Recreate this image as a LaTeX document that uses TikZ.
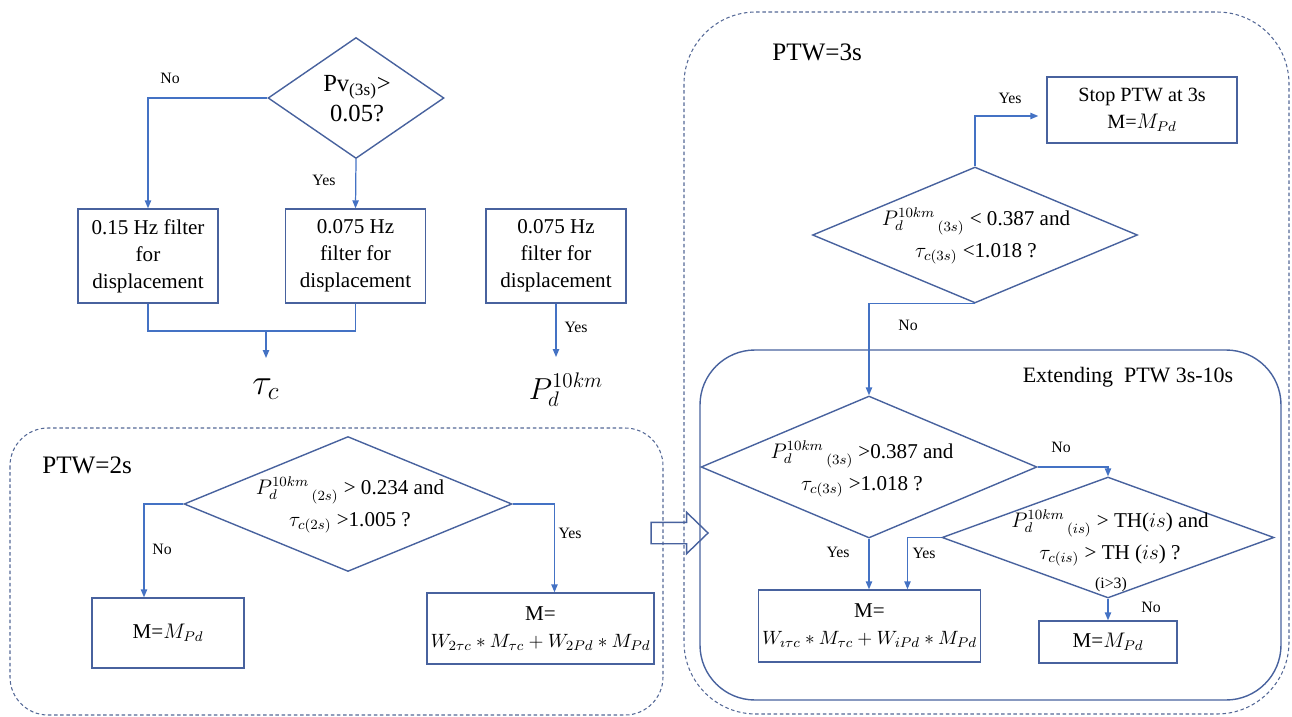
\documentclass[tikz,border=0pt]{standalone}
\usepackage{fontspec}
\setmainfont{Liberation Serif}
\usetikzlibrary{shapes.geometric,shapes.arrows,arrows.meta,calc}
\definecolor{lnc}{RGB}{68,114,196}
\definecolor{shc}{RGB}{72,98,158}
\definecolor{dsc}{RGB}{84,104,150}
\begin{document}
\begin{tikzpicture}[x=0.02cm,y=-0.02cm,
  ln/.style={draw=lnc,line width=0.7pt},
  arr/.style={ln,-{Triangle[length=4.5pt,width=3.6pt]}},
  boxn/.style={draw=shc,line width=0.8pt,align=center,inner sep=2pt,font=\fontsize{12}{15.3}\selectfont},
  dian/.style={draw=shc,line width=0.8pt,diamond,inner sep=0pt},
  dtext/.style={align=center,inner sep=0pt,font=\fontsize{12}{18}\selectfont},
  lbl/.style={font=\fontsize{9}{10}\selectfont,inner sep=0pt},
  frame/.style={draw=dsc,line width=0.6pt,dash pattern=on 2pt off 1.5pt},
  big/.style={font=\fontsize{14.3}{17}\selectfont,inner sep=0pt}
]
\useasboundingbox (0,0) rectangle (1292,717);

% ---------- frames ----------
\draw[frame,rounded corners=0.76cm] (10,428) rectangle (663,715);
\draw[frame,rounded corners=1.44cm] (684,12) rectangle (1289,714);
\draw[draw=shc,line width=0.8pt,rounded corners=1.1cm] (700,350) rectangle (1281,700);

% ---------- top left ----------
\node[dian,minimum width=3.52cm,minimum height=2.42cm] (pv) at (356,98) {};
\node[align=center,inner sep=0pt,font=\fontsize{14}{17}\selectfont] (pvt) at (357,99) {Pv\textsubscript{(3s)}>\\0.05?};
\node[boxn,minimum width=2.8cm,minimum height=1.88cm] (b1) at (148,256) {0.15 Hz filter\\for\\displacement};
\node[boxn,minimum width=2.8cm,minimum height=1.88cm] (b2) at (355.5,256) {0.075 Hz\\filter for\\displacement};
\node[boxn,minimum width=2.8cm,minimum height=1.88cm] (b3) at (556,256) {0.075 Hz\\filter for\\displacement};
\coordinate (jn) at (266,331);
\node[font=\fontsize{20}{24}\selectfont,anchor=north,inner sep=0pt] (tc) at (266,378) {$\tau_c$};
\node[font=\fontsize{18}{22}\selectfont,anchor=north,inner sep=0pt] (pd) at (566,373) {$P_d^{10km}$};

\draw[arr] (pv.west) -| (b1.north);
\draw[arr] (pv.south) -- (b2.north);
\draw[ln] (b1.south) |- (b2.south |- jn) -- (b2.south);
\draw[arr,shorten >=0.4cm] (jn) -- (tc.north);
\draw[arr,shorten >=0.32cm] (b3.south) -- (b3.south |- pd.north);
\node[lbl] (l1) at (170,78) {No};
\node[lbl] (l2) at (324,180) {Yes};
\node[lbl] (l3) at (576,327) {Yes};

% ---------- PTW=2s ----------
\node[big,anchor=west] (ptw2) at (42,465) {PTW=2s};
\node[dian,minimum width=6.56cm,minimum height=2.7cm] (d2) at (348,504) {};
\node[dtext] (d2t) at (350,505) {${P_d^{10km}}_{\,(2s)}$ > 0.234 and\\$\tau_{c(2s)}$ >1.005 ?};
\node[boxn,minimum width=3.04cm,minimum height=1.4cm] (m2a) at (168,633) {M=$M_{Pd}$};
\node[boxn,minimum width=4.42cm,minimum height=1.42cm] (m2b) at (540.5,628.5) {M=\\{\fontsize{11}{13}\selectfont$W_{2\tau c} * M_{\tau c} + W_{2Pd} * M_{Pd}$}};
\draw[arr] (d2.west) -| ($(m2a.north)+(-24,0)$);
\draw[arr] (d2.east) -| ($(m2b.north)+(14,0)$);
\node[lbl] (l4) at (162,549) {No};
\node[lbl] (l5) at (570,533) {Yes};

% hollow arrow
\node[single arrow,draw=shc,line width=0.8pt,minimum height=1.14cm,inner xsep=0pt,inner ysep=0.2cm,
  single arrow head extend=0.2cm,single arrow tip angle=88,single arrow head indent=0pt] (ha) at (674,533) {};

% ---------- PTW=3s ----------
\node[big,anchor=west] (ptw3) at (772,52) {PTW=3s};
\node[boxn,font=\fontsize{11.5}{15}\selectfont,minimum width=3.8cm,minimum height=1.32cm] (stop) at (1142,110) {Stop PTW at 3s\\M=$M_{Pd}$};
\node[dian,minimum width=6.5cm,minimum height=2.72cm] (d3) at (975,235) {};
\node[dtext] (d3t) at (976,236) {${P_d^{10km}}_{\,(3s)}$ < 0.387 and\\$\tau_{c(3s)}$ <1.018 ?};
\draw[arr,shorten >=0.16cm] (d3.north) |- ($(stop.west)+(0,6)$);
\node[lbl] (l6) at (1010,98) {Yes};

% ---------- Extending ----------
\node[font=\fontsize{12.5}{15}\selectfont,inner sep=0pt] (ext) at (1128,377) {Extending\ \ PTW 3s-10s};
\node[dian,minimum width=6.72cm,minimum height=2.84cm] (d4) at (869,467) {};
\node[dtext] (d4t) at (862,469) {${P_d^{10km}}_{\,(3s)}$ >0.387 and\\$\tau_{c(3s)}$ >1.018 ?};
\node[dian,minimum width=6.64cm,minimum height=2.42cm] (d5) at (1108,537.5) {};
\node[dtext] (d5t) at (1110,538) {${P_d^{10km}}_{\,(is)}$ > TH($is$) and\\$\tau_{c(is)}$ > TH ($is$) ?};
\node[lbl] (d5c) at (1111,585) {(i>3)};
\node[boxn,minimum width=4.42cm,minimum height=1.44cm] (mw) at (869.5,626) {M=\\{\fontsize{11}{13}\selectfont$W_{\imath\tau c} * M_{\tau c} + W_{iPd} * M_{Pd}$}};
\node[boxn,minimum width=2.76cm,minimum height=0.84cm] (mp) at (1108,642) {M=$M_{Pd}$};

\draw[arr] (d3.south) -| (d4.north);
\node[lbl] (l7) at (908,325) {No};
\draw[arr] (d4.east) -| (d5.north);
\node[lbl] (l8) at (1061,447) {No};
\draw[arr] (d4.south) -- (d4.south |- mw.north);
\node[lbl] (l9) at (838,552) {Yes};
\draw[arr] (d5.west) -| ($(mw.north)+(38,0)$);
\node[lbl] (l10) at (924,553) {Yes};
\draw[arr] (d5.south) -- (mp.north);
\node[lbl] (l11) at (1151,607) {No};
\end{tikzpicture}
\end{document}
